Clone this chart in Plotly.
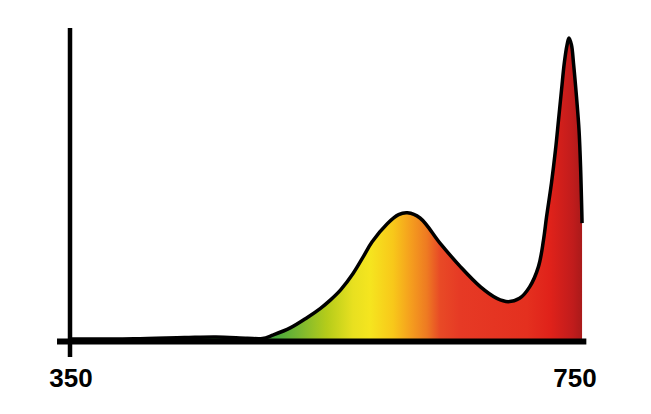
import plotly.graph_objects as go

# Data (wavelength in nm, relative intensity with peak = 100)
wavelength = [350, 400, 440, 465, 490, 502, 510, 524, 537, 548, 556, 564, 574, 582, 589,
              601, 610, 617, 627, 643, 659, 675, 688, 697, 706, 714, 721, 725, 727.4,
              731.3, 734.5, 736.9, 739.3, 741.5, 743.7, 745.2, 747.2, 748.8, 751.2,
              753.2, 754.5, 755.6]
intensity = [0.3, 0.4, 0.8, 1.0, 0.6, 0.5, 1.6, 4.0, 7.3, 10.5, 13.3, 16.6, 22.1, 27.6, 32.5,
             38.5, 41.5, 42.1, 40.4, 32.0, 24.3, 17.6, 13.8, 12.7, 13.8, 17.6, 24.3, 33.1, 40.7,
             51.9, 62.9, 72.8, 82.8, 91.7, 97.7, 100, 97.7, 91.7, 80.5,
             69.5, 56.3, 38.7]
tick_values = [350, 750]
tick_labels = ["350", "750"]

# spectral gradient stops (wavelength -> colour)
grad_nm = [505, 513.5, 531.7, 553, 573.8, 587.3, 605.6, 619, 632.5, 642.9, 658.7,
           711.9, 730, 748.4, 756]
grad_col = ["#3f9f3c", "#4caa3c", "#7ab830", "#b5cc1a", "#e8e020", "#f5e51f", "#f8c81a",
            "#f5a01e", "#ee7a22", "#e84a26", "#e63a25", "#e4301f", "#e0221a", "#c01c1c",
            "#a81a1a"]
g0, g1 = grad_nm[0], grad_nm[-1]
colorscale = [[(w - g0) / (g1 - g0), c] for w, c in zip(grad_nm, grad_col)]

fig = go.Figure()
fig.add_trace(go.Scatter(
    x=wavelength, y=intensity, mode="lines",
    line=dict(color="black", width=3.5, shape="spline", smoothing=1.0),
    fill="tozeroy",
    fillgradient=dict(type="horizontal", colorscale=colorscale, start=g0, stop=g1),
    hoverinfo="skip", showlegend=False,
))

# hand-drawn style axes
fig.add_shape(type="line", x0=338.9, x1=759, y0=-0.5, y1=-0.5,
              line=dict(color="black", width=6), layer="above")
fig.add_shape(type="line", x0=349.2, x1=349.2, y0=-5.6, y1=103.3,
              line=dict(color="black", width=4.5), layer="above")

fig.update_layout(
    width=651, height=414,
    margin=dict(l=42, r=48, t=12, b=62),
    paper_bgcolor="white", plot_bgcolor="white",
    xaxis=dict(range=[333.33, 778.57], showgrid=False, zeroline=False, showline=False,
               tickvals=tick_values, ticktext=tick_labels, ticks="",
               tickfont=dict(family="Liberation Sans", size=26, color="black", weight="bold")),
    yaxis=dict(range=[-6.62, 105.96], showgrid=False, zeroline=False, showline=False,
               showticklabels=False, ticks=""),
)

fig.write_html("out.html")
